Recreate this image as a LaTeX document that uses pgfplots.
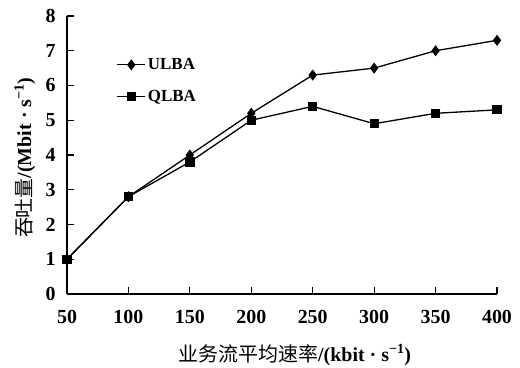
\documentclass[border=0pt]{standalone}
\usepackage{fontspec}
\setmainfont{Liberation Serif}
\newfontfamily\cjk{Noto Sans CJK SC}
\usepackage{pgfplots}
\pgfplotsset{compat=1.18}
\begin{document}
\begin{tikzpicture}[x=1bp,y=1bp]
\useasboundingbox (0,0) rectangle (520,367);
\begin{axis}[
  at={(67bp,73bp)}, anchor=south west,
  width=430bp, height=278bp, scale only axis,
  xmin=50, xmax=400, ymin=0, ymax=8,
  axis x line=bottom, axis y line=left,
  axis line style={-, line width=1.6bp, black},
  xtick={50,100,...,400}, ytick={0,1,...,8},
  tick align=inside, major tick length=7bp,
  tick style={line width=1.2bp, black},
  /pgf/number format/assume math mode=true,
  ticklabel style={font=\fontsize{20}{21}\selectfont\bfseries},
  xticklabel style={yshift=-13bp},
  yticklabel style={xshift=-8bp},
  xlabel={{\cjk 业务流平均速率}\textbf{/(kbit · s\textsuperscript{−1})}},
  ylabel={{\cjk 吞吐量}\textbf{/(Mbit · s\textsuperscript{−1})}},
  label style={font=\fontsize{20}{21}\selectfont},
  xlabel style={at={(axis description cs:0.53,-0.22)}, anchor=center},
  ylabel style={at={(axis description cs:-0.098,0.49)}, anchor=center},
  legend style={draw=none, fill=none, at={(axis description cs:0.115,0.855)}, anchor=north west,
    font=\fontsize{17}{18}\selectfont\bfseries, row sep=15bp, inner sep=0pt},
  legend cell align=left,
  legend image code/.code={\draw[mark repeat=2,mark phase=2] plot coordinates {(0bp,0bp)(14bp,0bp)(28bp,0bp)};},
]
\addplot[black, line width=1.3bp, mark=diamond*, mark size=4.5bp, mark options={solid}]
  coordinates {(50,1.0)(100,2.8)(150,4.0)(200,5.2)(250,6.3)(300,6.5)(350,7.0)(400,7.3)};
\addlegendentry{ULBA}
\addplot[black, line width=1.3bp, mark=square*, mark size=4bp, mark options={solid}]
  coordinates {(50,1.0)(100,2.8)(150,3.8)(200,5.0)(250,5.4)(300,4.9)(350,5.2)(400,5.3)};
\addlegendentry{QLBA}
\end{axis}
\end{tikzpicture}
\end{document}
